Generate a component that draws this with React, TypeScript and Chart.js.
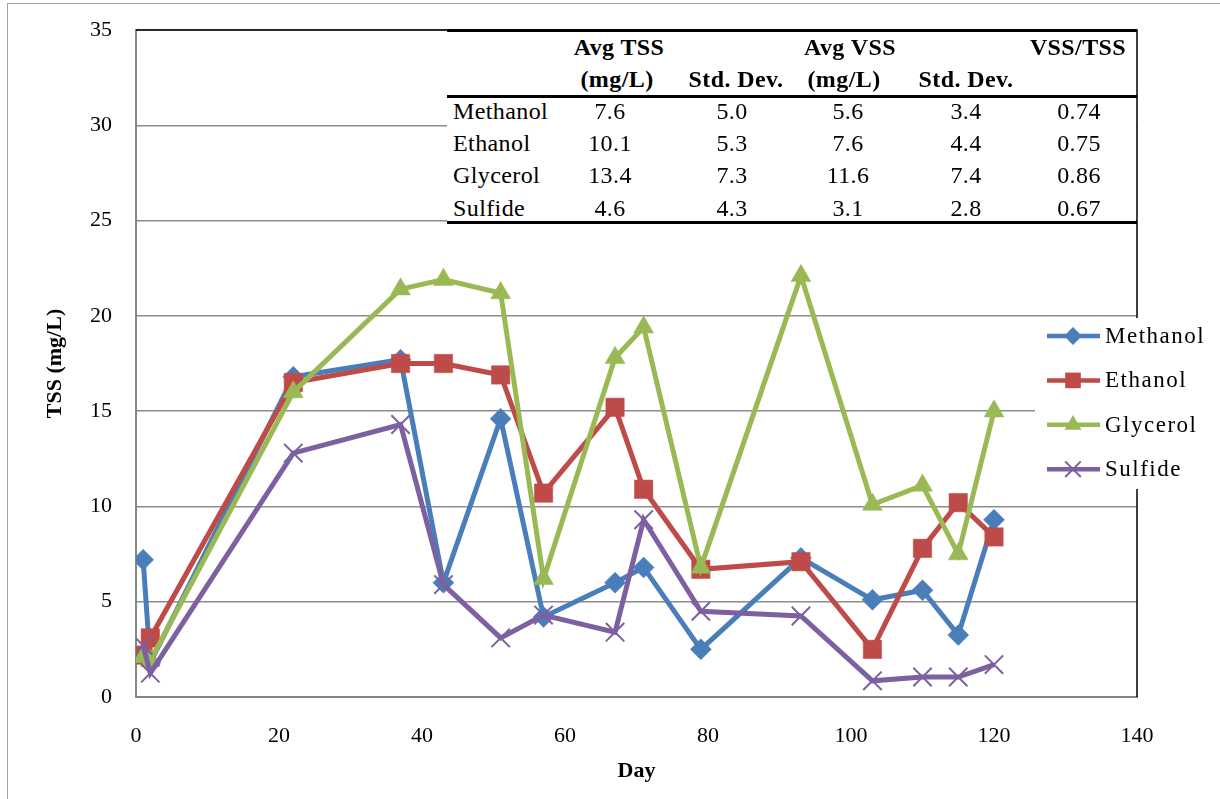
import React, { useEffect, useRef } from 'react';
import { Chart, registerables } from 'chart.js';

Chart.register(...registerables);

// ---------- data ----------
const days = [1, 2, 22, 37, 43, 51, 57, 67, 71, 79, 93, 103, 110, 115, 120];
const methanol = [7.2, 1.8, 16.8, 17.7, 6.0, 14.6, 4.2, 6.0, 6.8, 2.5, 7.3, 5.1, 5.6, 3.25, 9.3];
const ethanol = [2.2, 3.1, 16.5, 17.5, 17.5, 16.9, 10.7, 15.2, 10.9, 6.7, 7.1, 2.5, 7.8, 10.2, 8.4];
const glycerol = [2.1, 1.9, 16.0, 21.4, 21.9, 21.2, 6.2, 17.8, 19.4, 6.8, 22.1, 10.1, 11.1, 7.5, 15.0];
const sulfide = [2.7, 1.25, 12.8, 14.3, 5.9, 3.1, 4.3, 3.4, 9.3, 4.5, 4.25, 0.85, 1.05, 1.05, 1.7];

const seriesNames = ['Methanol', 'Ethanol', 'Glycerol', 'Sulfide'];

// table
const tableRows = ['Methanol', 'Ethanol', 'Glycerol', 'Sulfide'];
const avgTSS = ['7.6', '10.1', '13.4', '4.6'];
const sdTSS = ['5.0', '5.3', '7.3', '4.3'];
const avgVSS = ['5.6', '7.6', '11.6', '3.1'];
const sdVSS = ['3.4', '4.4', '7.4', '2.8'];
const vssTss = ['0.74', '0.75', '0.86', '0.67'];

const SERIF = '"Liberation Serif", "Times New Roman", serif';

const COLORS = ['#4A7EBB', '#BE4B48', '#98B954', '#7D60A0'];

function drawMarker(ctx: CanvasRenderingContext2D, style: string, x: number, y: number, r: number, color: string) {
  ctx.save();
  ctx.fillStyle = color;
  ctx.strokeStyle = color;
  ctx.beginPath();
  if (style === 'rectRot') {
    ctx.moveTo(x, y - r);
    ctx.lineTo(x + r, y);
    ctx.lineTo(x, y + r);
    ctx.lineTo(x - r, y);
    ctx.closePath();
    ctx.fill();
  } else if (style === 'rect') {
    const s = r * Math.SQRT1_2;
    ctx.rect(x - s, y - s, 2 * s, 2 * s);
    ctx.fill();
  } else if (style === 'triangle') {
    const a = (2 * Math.PI) / 3;
    ctx.moveTo(x, y - r);
    ctx.lineTo(x + Math.sin(a) * r, y - Math.cos(a) * r);
    ctx.lineTo(x + Math.sin(2 * a) * r, y - Math.cos(2 * a) * r);
    ctx.closePath();
    ctx.fill();
  } else {
    const o = r * Math.SQRT1_2;
    ctx.lineWidth = 2;
    ctx.moveTo(x - o, y - o);
    ctx.lineTo(x + o, y + o);
    ctx.moveTo(x + o, y - o);
    ctx.lineTo(x - o, y + o);
    ctx.stroke();
  }
  ctx.restore();
}

const framePlugin = {
  id: 'frame',
  beforeInit(chart: any) {
    chart.ctx.letterSpacing = '1.6px';
  },
  beforeDraw(chart: any) {
    const ctx = chart.ctx as CanvasRenderingContext2D;
    ctx.save();
    ctx.fillStyle = '#ffffff';
    ctx.fillRect(0, 0, chart.width, chart.height);
    ctx.strokeStyle = '#a0a0a0';
    ctx.lineWidth = 1;
    ctx.strokeRect(7.5, 3.5, chart.width, chart.height);
    ctx.restore();
  },
  beforeDatasetsDraw(chart: any) {
    const ctx = chart.ctx as CanvasRenderingContext2D;
    const { left, right, top, bottom } = chart.chartArea;
    ctx.save();
    ctx.strokeStyle = '#000';
    ctx.lineWidth = 1.5;
    ctx.beginPath();
    ctx.moveTo(left, top);
    ctx.lineTo(right, top);
    ctx.lineTo(right, bottom);
    ctx.stroke();
    ctx.restore();
  },
  afterDraw(chart: any) {
    const ctx = chart.ctx as CanvasRenderingContext2D;
    ctx.save();
    ctx.fillStyle = '#ffffff';
    ctx.fillRect(1035, 318, 190, 171);
    chart.data.datasets.forEach((ds: any, i: number) => {
      const y = 336 + i * 44.4;
      ctx.strokeStyle = ds.borderColor;
      ctx.lineWidth = 4.5;
      ctx.beginPath();
      ctx.moveTo(1047, y);
      ctx.lineTo(1100, y);
      ctx.stroke();
      drawMarker(ctx, ds.pointStyle, 1073, y, ds.pointRadius * 0.85, ds.borderColor);
      ctx.fillStyle = '#000';
      ctx.font = `23px ${SERIF}`;
      (ctx as any).letterSpacing = '1.5px';
      ctx.textAlign = 'left';
      ctx.textBaseline = 'middle';
      ctx.fillText(ds.label, 1105, y + 1);
    });
    ctx.restore();
  },
};

const seriesValues = [methanol, ethanol, glycerol, sulfide];
const pointStyles = ['rectRot', 'rect', 'triangle', 'crossRot'];
const pointRadii = [10.5, 13, 11.5, 13];

export default function App() {
  const ref = useRef<HTMLCanvasElement | null>(null);

  useEffect(() => {
    if (!ref.current) return;
    const datasets = seriesNames.map((name, i) => ({
      label: name,
      data: days.map((d, j) => ({ x: d, y: seriesValues[i][j] })),
      borderColor: COLORS[i],
      backgroundColor: COLORS[i],
      pointBackgroundColor: COLORS[i],
      pointBorderColor: COLORS[i],
      borderWidth: 5,
      pointStyle: pointStyles[i],
      pointRadius: pointRadii[i],
      pointBorderWidth: pointStyles[i] === 'crossRot' ? 2 : 0.5,
      tension: 0,
      order: 3 - i,
    }));
    const chart = new Chart(ref.current, {
      type: 'line',
      data: { datasets },
      plugins: [framePlugin],
      options: {
        responsive: false,
        animation: false,
        layout: { padding: { left: 0, top: 30, right: 83, bottom: 0 } },
        plugins: { legend: { display: false }, tooltip: { enabled: false } },
        scales: {
          x: {
            type: 'linear',
            min: 0,
            max: 140,
            ticks: { stepSize: 20, padding: 26, color: '#000', font: { family: SERIF, size: 22 } },
            grid: { display: false, drawTicks: false },
            border: { display: true, color: '#868686', width: 2 },
            title: {
              display: true,
              text: 'Day',
              color: '#000',
              font: { family: SERIF, size: 22, weight: 'bold' },
              padding: { top: 0, bottom: 14 },
            },
            afterFit: (s: any) => {
              s.height = 102;
              s.paddingLeft = 0;
              s.paddingRight = 0;
            },
          },
          y: {
            type: 'linear',
            min: 0,
            max: 35,
            ticks: { stepSize: 5, padding: 24, color: '#000', font: { family: SERIF, size: 22 } },
            grid: { color: '#8c8c8c', lineWidth: 1.5, drawTicks: false },
            border: { display: true, color: '#868686', width: 2 },
            title: {
              display: true,
              text: 'TSS (mg/L)',
              color: '#000',
              font: { family: SERIF, size: 22, weight: 'bold' },
              padding: { top: 42, bottom: 0 },
            },
            afterFit: (s: any) => {
              s.width = 136;
              s.paddingTop = 0;
              s.paddingBottom = 0;
            },
          },
        },
      } as any,
    });
    return () => chart.destroy();
  }, []);

  const valueCols = [avgTSS, sdTSS, avgVSS, sdVSS, vssTss];
  const valueCenters = [163, 285, 401, 519, 632];
  const rowCenters = [81, 112.5, 145, 177.5];
  const cellStyle = (cx: number, cy: number, bold = false): React.CSSProperties => ({
    position: 'absolute',
    left: cx - 80,
    width: 160,
    top: cy - 16,
    height: 32,
    lineHeight: '32px',
    textAlign: 'center',
    fontWeight: bold ? 'bold' : 'normal',
    whiteSpace: 'nowrap',
  });

  return (
    <div style={{ position: 'fixed', left: 0, top: 0, width: 1220, height: 799, background: '#fff', overflow: 'hidden' }}>
      <canvas ref={ref} width={1220} height={799} style={{ display: 'block', width: 1220, height: 799 }} />
      <div
        style={{
          position: 'absolute',
          left: 447,
          top: 30,
          width: 689,
          height: 193,
          background: '#fff',
          fontFamily: SERIF,
          fontSize: 24,
          letterSpacing: '0.4px',
          color: '#000',
        }}
      >
        <div style={{ position: 'absolute', left: 0, top: -1.5, width: 690, height: 3, background: '#000' }} />
        <div style={{ position: 'absolute', left: 0, top: 64.5, width: 690, height: 3, background: '#000' }} />
        <div style={{ position: 'absolute', left: 0, top: 190.5, width: 690, height: 3, background: '#000' }} />
        <div style={cellStyle(172, 17, true)}>Avg TSS</div>
        <div style={cellStyle(403, 17, true)}>Avg VSS</div>
        <div style={cellStyle(631, 17, true)}>VSS/TSS</div>
        <div style={cellStyle(170, 49, true)}>(mg/L)</div>
        <div style={cellStyle(289, 49, true)}>Std. Dev.</div>
        <div style={cellStyle(397, 49, true)}>(mg/L)</div>
        <div style={cellStyle(519, 49, true)}>Std. Dev.</div>
        {tableRows.map((name, r) => (
          <React.Fragment key={name}>
            <div
              style={{
                position: 'absolute',
                left: 6,
                top: rowCenters[r] - 16,
                height: 32,
                lineHeight: '32px',
                whiteSpace: 'nowrap',
              }}
            >
              {name}
            </div>
            {valueCols.map((col, c) => (
              <div key={c} style={cellStyle(valueCenters[c], rowCenters[r])}>
                {col[r]}
              </div>
            ))}
          </React.Fragment>
        ))}
      </div>
    </div>
  );
}
